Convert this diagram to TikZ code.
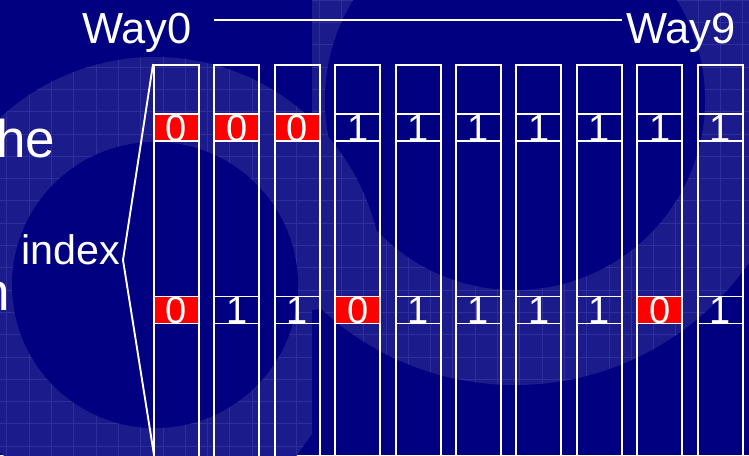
\documentclass[tikz,border=0pt]{standalone}
\usepackage{fontspec}
\setmainfont{Liberation Sans}
\usepackage{tikz}
\usetikzlibrary{positioning}
\definecolor{navy}{HTML}{000080}
\definecolor{navylite}{HTML}{1B1B8C}
\definecolor{gridblue}{HTML}{2E2E9C}

\begin{document}
\begin{tikzpicture}[x=1pt, y=-1pt,
  way/.style={text=white, font=\fontsize{43.5}{48}\selectfont, inner sep=0pt, anchor=base west},
  side/.style={text=white, font=\fontsize{53}{60}\selectfont, inner sep=0pt},
  col/.style={draw=white, line width=1.9pt, minimum width=45pt, minimum height=420pt, inner sep=0pt},
  biton/.style={draw=white, line width=1.9pt, minimum width=45pt, minimum height=25pt, inner sep=0pt,
    text=white, font=\fontsize{38}{40}\selectfont, text height=27pt, text depth=-2pt},
  bitoff/.style={biton, fill=red},
  wire/.style={draw=white, line width=1.9pt},
  bggrid/.style={gridblue, line width=0.6pt},
]
\useasboundingbox (0,0) rectangle (749,455);
\clip (0,0) rectangle (749,455);
% backdrop
\fill[navy] (0,0) rectangle (749,455);
\begin{scope}
  \clip (312,-10) rectangle (760,470);
  \fill[navylite] (515,100) circle (285pt);
  \begin{scope}
    \clip (515,100) circle (285pt);
    \draw[bggrid, xshift=6.7pt] (-10,-10) grid[step=22.3pt] (770,470);
  \end{scope}
  \fill[navy] (515,100) circle (190pt);
\end{scope}
\begin{scope}
  \clip (-10,-10) -- (400,-10) -- (400,300) -- (312,310) -- (312,434) -- (290,465) -- (-10,465) -- cycle;
  \fill[navylite] (155,285) circle (228pt);
  \begin{scope}
    \clip (155,285) circle (228pt);
    \draw[bggrid, xshift=6.7pt] (-10,-10) grid[step=22.3pt] (770,470);
  \end{scope}
  \fill[navy] (155,285) circle (143pt);
\end{scope}
% texts
\node[side, anchor=base west] (the) at (-4,157) {he};
\node[side, anchor=base east] (an) at (10,310) {n};
\node[way] (way0) at (82,43) {Way0};
\node[way] (way9) at (626,43) {Way9};
\coordinate (hl) at (214,20);
\coordinate (hr) at (622,20);
\draw[wire] (hl) -- (hr);
\node[way, font=\fontsize{41.3}{46}\selectfont] (index) at (21,264) {index};
% ways
\node[col] (c0) at (176.5,275) {};
\node[col] (c1) at (236.9,275) {};
\node[col] (c2) at (297.3,275) {};
\node[col] (c3) at (357.7,275) {};
\node[col] (c4) at (418.1,275) {};
\node[col] (c5) at (478.5,275) {};
\node[col] (c6) at (538.9,275) {};
\node[col] (c7) at (599.3,275) {};
\node[col] (c8) at (659.7,275) {};
\node[col] (c9) at (720.1,275) {};
% first set
\node[bitoff] (a0) at (176.5,127.5) {0};
\node[bitoff] (a1) at (236.9,127.5) {0};
\node[bitoff] (a2) at (297.3,127.5) {0};
\node[biton] (a3) at (357.7,127.5) {1};
\node[biton] (a4) at (418.1,127.5) {1};
\node[biton] (a5) at (478.5,127.5) {1};
\node[biton] (a6) at (538.9,127.5) {1};
\node[biton] (a7) at (599.3,127.5) {1};
\node[biton] (a8) at (659.7,127.5) {1};
\node[biton] (a9) at (720.1,127.5) {1};
% second set
\node[bitoff] (b0) at (176.5,310) {0};
\node[biton] (b1) at (236.9,310) {1};
\node[biton] (b2) at (297.3,310) {1};
\node[bitoff] (b3) at (357.7,310) {0};
\node[biton] (b4) at (418.1,310) {1};
\node[biton] (b5) at (478.5,310) {1};
\node[biton] (b6) at (538.9,310) {1};
\node[biton] (b7) at (599.3,310) {1};
\node[bitoff] (b8) at (659.7,310) {0};
\node[biton] (b9) at (720.1,310) {1};
% index bracket
\coordinate (tip) at (123,260);
\coordinate (foot) at (154,455);
\draw[wire] (c0.north west) -- (tip) -- (foot);
\end{tikzpicture}
\end{document}
